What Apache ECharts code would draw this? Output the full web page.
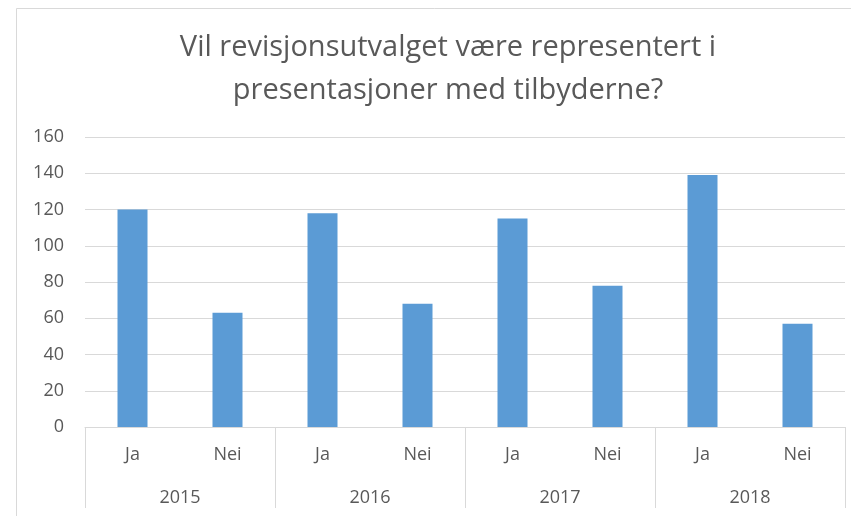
<!DOCTYPE html>
<html>
<head>
<meta charset="utf-8">
<script src="https://cdn.jsdelivr.net/npm/echarts@6/dist/echarts.min.js"></script>
<style>html,body{margin:0;padding:0;background:#fff;}#c{width:851px;height:516px;}</style>
</head>
<body>
<div id="c"></div>
<script>
const titleText = 'Vil revisjonsutvalget være representert i\npresentasjoner med tilbyderne?';
const answers = ['Ja', 'Nei', 'Ja', 'Nei', 'Ja', 'Nei', 'Ja', 'Nei'];
const years = ['2015', '2016', '2017', '2018'];
const values = [120, 63, 118, 68, 115, 78, 139, 57];
const yTicks = { min: 0, max: 160, interval: 20 };

const FONT = 'Open Sans';
const TXT = '#595959';
const chart = echarts.init(document.getElementById('c'), null, { renderer: 'canvas' });
chart.setOption({
  animation: false,
  backgroundColor: '#fff',
  graphic: [{
    type: 'rect', shape: { x: 16.5, y: 8.5, width: 900, height: 600 },
    style: { fill: 'none', stroke: '#D9D9D9', lineWidth: 1 }, silent: true, z: -1
  }, {
    type: 'text', x: 448, y: 26, silent: true,
    style: {
      text: titleText, align: 'center', verticalAlign: 'top',
      fontFamily: FONT, fontSize: 29, fontWeight: 'normal', fill: TXT, lineHeight: 43
    }
  }],
  grid: { left: 85, right: 6, top: 137, bottom: 89, containLabel: false },
  xAxis: [{
    type: 'category', data: answers, position: 'bottom',
    axisLine: { show: true, lineStyle: { color: '#D9D9D9', width: 1 } },
    axisTick: { show: false },
    axisLabel: { color: TXT, fontFamily: FONT, fontSize: 18, margin: 19 }
  }, {
    type: 'category', data: years, position: 'bottom',
    axisLine: { show: false },
    axisTick: { show: true, length: 81, lineStyle: { color: '#D9D9D9', width: 1 } },
    axisLabel: { color: TXT, fontFamily: FONT, fontSize: 18, margin: 62 }
  }],
  yAxis: {
    type: 'value', min: yTicks.min, max: yTicks.max, interval: yTicks.interval,
    axisLine: { show: false }, axisTick: { show: false },
    axisLabel: { color: TXT, fontFamily: FONT, fontSize: 18, margin: 21 },
    splitLine: { lineStyle: { color: '#D9D9D9', width: 1 } }
  },
  series: [{
    type: 'bar', data: values, xAxisIndex: 0, barWidth: 30,
    itemStyle: { color: '#5B9BD5' }
  }]
});
</script>
</body>
</html>
